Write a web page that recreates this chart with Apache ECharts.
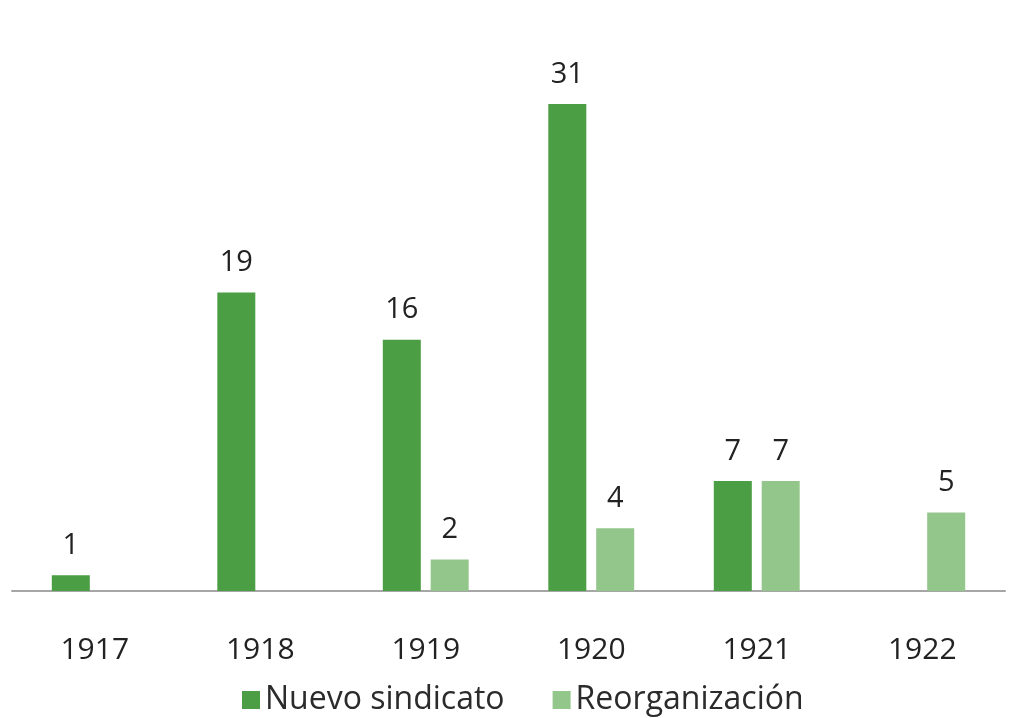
<!DOCTYPE html>
<html>
<head>
<meta charset="utf-8">
<script src="https://cdn.jsdelivr.net/npm/echarts@6/dist/echarts.min.js"></script>
<style>html,body{margin:0;padding:0;background:#fff;}#c{width:1012px;height:718px;}</style>
</head>
<body>
<div id="c"></div>
<script>
var categories = ['1917', '1918', '1919', '1920', '1921', '1922'];
var nuevoSindicato = [1, 19, 16, 31, 7, null];
var reorganizacion = [null, null, 2, 4, 7, 5];
var seriesNames = ['Nuevo sindicato', 'Reorganización'];

var chart = echarts.init(document.getElementById('c'));
var font = 'Open Sans';
chart.setOption({
  animation: false,
  backgroundColor: '#ffffff',
  grid: { left: 12, right: 7, top: 104, bottom: 127, containLabel: false },
  legend: {
    bottom: 2,
    left: 242,
    padding: 0,
    itemWidth: 18, itemHeight: 18, itemGap: 48,
    icon: 'rect',
    textStyle: { fontFamily: font, fontSize: 32, color: '#2b2b2b' },
    data: seriesNames
  },
  xAxis: {
    type: 'category',
    data: categories,
    axisLine: { lineStyle: { color: '#a6a6a6', width: 2 } },
    axisTick: { show: false },
    axisLabel: { fontFamily: font, fontSize: 30, color: '#222', margin: 44 }
  },
  yAxis: {
    type: 'value', min: 0, max: 31, show: false,
    splitLine: { show: false }
  },
  series: [
    {
      name: seriesNames[0], type: 'bar', data: nuevoSindicato,
      barWidth: 38, barGap: '26%',
      itemStyle: { color: '#4c9e45' },
      label: { show: true, position: 'top', distance: 15, fontFamily: font, fontSize: 29, color: '#222' }
    },
    {
      name: seriesNames[1], type: 'bar', data: reorganizacion,
      barWidth: 38, barGap: '26%',
      itemStyle: { color: '#93c68b' },
      label: { show: true, position: 'top', distance: 15, fontFamily: font, fontSize: 29, color: '#222' }
    }
  ]
});
</script>
</body>
</html>
